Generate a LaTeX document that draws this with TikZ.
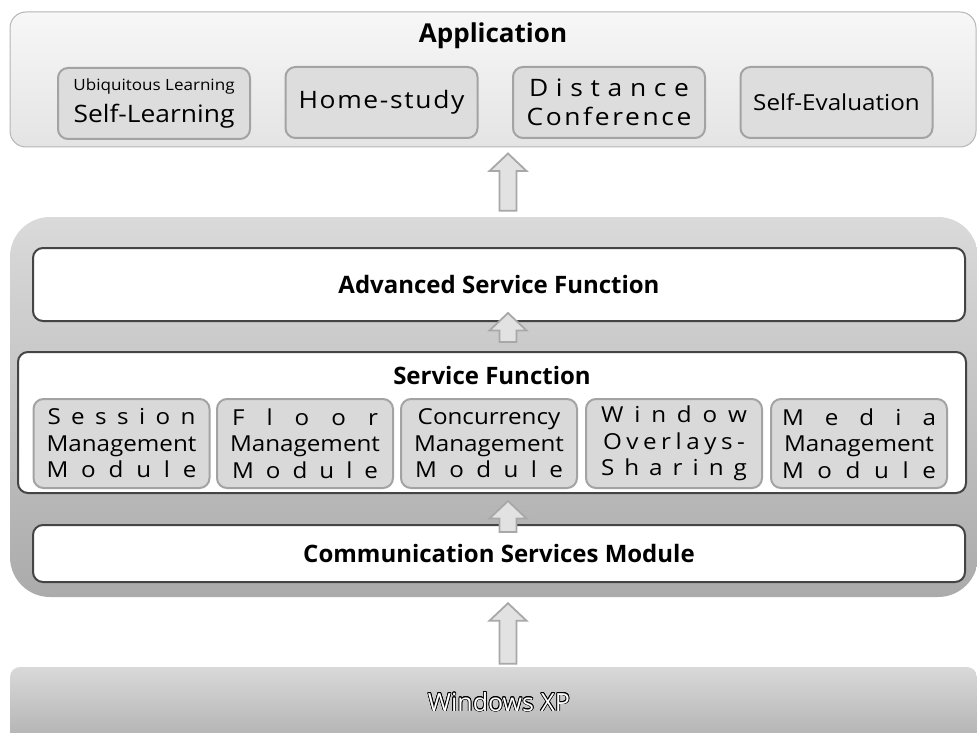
\documentclass[tikz,border=0pt]{standalone}
\usepackage{fontspec}
\setmainfont{Open Sans}
\newfontfamily\widefont{Open Sans}[FakeStretch=1.1]
\usepackage{contour}
\contourlength{0.7pt}
\usetikzlibrary{calc}
\definecolor{apptop}{HTML}{F7F7F7}
\definecolor{appbot}{HTML}{E4E4E4}
\definecolor{appborder}{HTML}{B5B5B5}
\definecolor{itemfill}{HTML}{DDDDDD}
\definecolor{itemborder}{HTML}{A3A3A3}
\definecolor{midtop}{HTML}{DADADA}
\definecolor{midbot}{HTML}{ABABAB}
\definecolor{boxborder}{HTML}{444444}
\definecolor{modfill}{HTML}{D9D9D9}
\definecolor{arrowfill}{HTML}{E2E2E2}
\definecolor{arrowborder}{HTML}{A8A8A8}
\definecolor{wintop}{HTML}{D9D9D9}
\definecolor{winbot}{HTML}{B6B6B6}
\tikzset{
  appbox/.style={draw=appborder, line width=1pt, rounded corners=16pt, top color=apptop, bottom color=appbot, inner sep=0pt},
  appitem/.style={draw=itemborder, line width=2pt, rounded corners=10pt, fill=itemfill, minimum width=192pt, minimum height=71pt, inner sep=0pt, align=center, font=\widefont\fontsize{24}{28}\selectfont},
  container/.style={rounded corners=40pt, top color=midtop, bottom color=midbot, inner sep=0pt},
  whitebox/.style={draw=boxborder, line width=2pt, rounded corners=10pt, fill=white, inner sep=0pt},
  module/.style={draw=itemborder, line width=2pt, rounded corners=10pt, fill=modfill, minimum width=176pt, minimum height=89pt, inner sep=0pt, align=center, font=\widefont\fontsize{22}{26.5}\selectfont},
  title/.style={font=\fontsize{24}{28}\selectfont\bfseries},
  blockarrow/.style={draw=arrowborder, line width=1.8pt, fill=arrowfill, line join=miter},
}
\newcommand{\uparr}[2]{\draw[blockarrow] let \p1=#1, \p2=#2 in
  (\x1-8.5pt,\y1) -- (\x1-8.5pt,\y2-17.5pt) -- (\x1-18.5pt,\y2-17.5pt) -- (\x1,\y2)
  -- (\x1+18.5pt,\y2-17.5pt) -- (\x1+8.5pt,\y2-17.5pt) -- (\x1+8.5pt,\y1) -- cycle;}
\newcommand{\spr}[2]{\makebox[#1][s]{#2}}
\begin{document}
\begin{tikzpicture}[x=1pt,y=-1pt]
\useasboundingbox (0,0) rectangle (977,733);
\coordinate (axis) at (508,0);
% Application layer
\node[appbox, minimum width=966pt, minimum height=135pt] (app) at (493,79.5) {};
\node[font=\fontsize{26}{30}\selectfont\bfseries] (apptitle) at (493,36) {Application};
\node[appitem] (ubi) at (154,103.5) {{\fontsize{15.5}{18}\selectfont Ubiquitous Learning}\\[4pt]Self-Learning};
\node[appitem] (home) at (381.5,102.5) {\raisebox{-2pt}{\addfontfeatures{LetterSpace=7}Home-study}};
\node[appitem] (dist) at (609,102.5) {\spr{160pt}{D i s t a n c e}\\[1pt]{\addfontfeatures{LetterSpace=11}Conference}};
\node[appitem, font=\widefont\fontsize{22}{26}\selectfont] (eval) at (836.5,102.5) {\raisebox{-2pt}{Self-Evaluation}};
% Middle container
\node[container, minimum width=968pt, minimum height=380pt] (mid) at (494,407) {};
\node[whitebox, minimum width=932pt, minimum height=73pt, title] (asf) at (499,284.5) {Advanced Service Function};
\node[whitebox, minimum width=948pt, minimum height=141pt] (sf) at (492,422.5) {};
\node[title] (sftitle) at (492,375) {Service Function};
\node[module] (m1) at (121.5,443.5) {\spr{148pt}{S e s s i o n}\\Management\\\spr{150pt}{M o d u l e}};
\node[module] (m2) at (305,443.5) {\spr{146pt}{F l o o r}\\Management\\\spr{146pt}{M o d u l e}};
\node[module] (m3) at (489,443.5) {Concurrency\\Management\\\spr{148pt}{M o d u l e}};
\node[module] (m4) at (674,443.5) {\spr{146pt}{W i n d o w}\\\spr{142pt}{O v e r l a y s -}\\\spr{146pt}{S h a r i n g}};
\node[module] (m5) at (859,443.5) {\spr{154pt}{M e d i a}\\Management\\\spr{154pt}{M o d u l e}};
\node[whitebox, minimum width=932pt, minimum height=57pt, title] (csm) at (499,553.5) {Communication Services Module};
% Windows XP
\path[top color=wintop, bottom color=winbot] (10,733) [rounded corners=10pt] -- (10,667) -- (977,667) [sharp corners] -- (977,733) -- cycle;
\node[minimum width=967pt, minimum height=66pt, inner sep=0pt, text=white, font=\fontsize{25}{29}\selectfont] (win) at (499,702) {\contour{black}{Windows XP}};
% Arrows
\uparr{($(win.north -| axis)+(0,-5)$)}{($(mid.south -| axis)+(0,6)$)}
\uparr{($(csm.north -| axis)+(0,8)$)}{($(sf.south -| axis)+(0,7)$)}
\uparr{($(sf.north -| axis)+(0,-9)$)}{($(asf.south -| axis)+(0,-9)$)}
\uparr{($(mid.north -| axis)+(0,-6)$)}{($(app.south -| axis)+(0,6)$)}
\end{tikzpicture}
\end{document}
